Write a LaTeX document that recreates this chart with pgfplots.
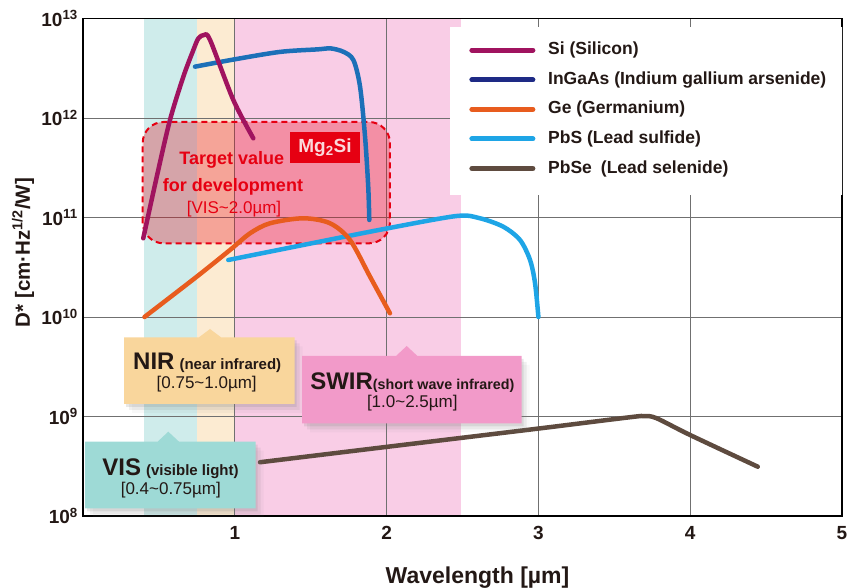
\documentclass[border=0pt]{standalone}
\usepackage{fontspec}
\setmainfont{Liberation Sans}
\usepackage{pgfplots}
\pgfplotsset{compat=1.18}
\usetikzlibrary{shadows}

\definecolor{sicol}{HTML}{A0135F}
\definecolor{ingaas}{HTML}{1C70B8}
\definecolor{ingaasleg}{HTML}{1E2A85}
\definecolor{gecol}{HTML}{E85C1E}
\definecolor{pbscol}{HTML}{1EA5E6}
\definecolor{pbsecol}{HTML}{5E4B3F}
\definecolor{visband}{HTML}{CFECEB}
\definecolor{nirband}{HTML}{FCEBD2}
\definecolor{swirband}{HTML}{F9CDE6}
\definecolor{visbox}{HTML}{9EDAD6}
\definecolor{nirbox}{HTML}{F9D69C}
\definecolor{swirbox}{HTML}{F29AC9}
\definecolor{tred}{HTML}{E60012}
\definecolor{gridgray}{HTML}{707070}
\definecolor{ink}{HTML}{231815}

\newcommand{\fs}[1]{\fontsize{#1}{#1}\selectfont}

\begin{document}
\begin{tikzpicture}
\begin{axis}[
    name=ax, set layers, scale only axis,
    width=759pt, height=497.5pt,
    xmin=0, xmax=5, ymin=1e8, ymax=1e13, ymode=log,
    xtick={1,2,3,4,5}, xticklabels={1,2,3,4,5},
    ytick={1e8,1e9,1e10,1e11,1e12,1e13},
    yticklabels={10\textsuperscript{8},10\textsuperscript{9},10\textsuperscript{10},10\textsuperscript{11},10\textsuperscript{12},10\textsuperscript{13}},
    grid=major, major grid style={line width=0.8pt, color=gridgray},
    major tick length=0pt, minor tick length=0pt,
    axis line style={line width=1.3pt, black},
    tick label style={font=\fs{19}\bfseries, inner sep=0pt, text=ink},
    xticklabel style={anchor=north, yshift=-10.5pt},
    yticklabel style={anchor=east, xshift=-5pt},
    legend image code/.code={\draw[#1, line width=5pt, line cap=round] (0pt,0pt) -- (61pt,0pt);},
    legend style={at={(axis description cs:0.5088,0.9538)}, anchor=north west,
        draw=none, fill=none, inner sep=0pt, row sep=12.6pt, column sep=12.8pt,
        font=\fs{17.5}\bfseries, text=ink,
        nodes={inner sep=0pt, text height=13pt, text depth=4pt}},
    legend cell align=left,
]
% wavelength bands behind the grid
\begin{pgfonlayer}{axis background}
\fill[visband] (axis cs:0.4,1e8) rectangle (axis cs:0.75,1e13);
\fill[nirband] (axis cs:0.75,1e8) rectangle (axis cs:1.0,1e13);
\fill[swirband] (axis cs:1.0,1e8) rectangle (axis cs:2.49,1e13);
\end{pgfonlayer}

% target region
\draw[tred, line width=2pt, dash pattern=on 6pt off 4pt, fill=tred, fill opacity=0.3, rounded corners=21pt]
    (axis cs:0.393,5.5e10) rectangle (axis cs:2.022,9.12e11);

\addplot[pbsecol, line width=4.5pt, smooth, line cap=round, line join=round, no markers, forget plot] coordinates {
    (1.166,3.47e8) (2.0,4.95e8) (3.011,7.6e8) (3.6,9.82e8) (3.70,1.01e9) (3.779,9.6e8) (3.999,6.52e8) (4.445,3.13e8)
};
\addplot[pbscol, line width=4.5pt, smooth, line cap=round, line join=round, no markers, forget plot] coordinates {
    (0.957,3.74e10) (1.5,5.48e10) (2.0,7.75e10) (2.461,1.035e11) (2.615,9.82e10)
    (2.769,8.07e10) (2.879,5.94e10) (2.945,3.74e10) (2.978,2.18e10) (3.0,1.0e10)
};
\addplot[gecol, line width=4.5pt, smooth, line cap=round, line join=round, no markers, forget plot] coordinates {
    (0.405,1.0e10) (0.749,2.54e10) (0.968,4.71e10) (1.10,6.93e10) (1.232,8.75e10) (1.451,9.82e10)
    (1.627,8.75e10) (1.759,5.94e10) (1.891,2.54e10) (2.022,1.09e10)
};
\addplot[ingaas, line width=4.5pt, smooth, line cap=round, line join=round, no markers, forget plot] coordinates {
    (0.738,3.28e12) (1.0,3.89e12) (1.3,4.62e12) (1.55,4.9e12) (1.63,5.01e12) (1.715,4.63e12) (1.781,3.83e12)
    (1.825,2.07e12) (1.858,6.49e11) (1.879,2.04e11) (1.886,9.44e10)
};
\addplot[sicol, line width=4.5pt, smooth, line cap=round, line join=round, no markers, forget plot] coordinates {
    (0.397,6.18e10) (0.486,2.57e11) (0.573,9.55e11) (0.661,2.6e12) (0.727,4.82e12) (0.760,6.31e12)
    (0.797,6.82e12) (0.837,6.08e12) (0.990,1.52e12) (1.122,6.25e11)
};

% white legend panel
\fill[white] (axis cs:2.418,1.68e11) rectangle (axis cs:5.1,8.28e12);

\addlegendimage{sicol}
\addlegendentry{Si (Silicon)}
\addlegendimage{ingaasleg}
\addlegendentry{InGaAs (Indium gallium arsenide)}
\addlegendimage{gecol}
\addlegendentry{Ge (Germanium)}
\addlegendimage{pbscol}
\addlegendentry{PbS (Lead sulfide)}
\addlegendimage{pbsecol}
\addlegendentry{PbSe\hspace{9pt}(Lead selenide)}
\end{axis}

% annotations in image pixel coordinates
\begin{scope}[shift={(ax.north west)}, xshift=-83pt, yshift=18.5pt, x=1pt, y=-1pt]
  % axis titles
  \node[rotate=90, font=\fs{20.5}\bfseries, text=ink] at (23,252.5) {D* [cm·Hz\textsuperscript{1/2}/W]};
  \node[anchor=base, font=\fs{23}\bfseries, text=ink] at (477.5,583.3) {Wavelength [µm]};

  % target text
  \node[anchor=base, font=\fs{18}\bfseries, text=tred] at (231.7,165) {Target value};
  \node[anchor=base, font=\fs{18}\bfseries, text=tred] at (233,191.7) {for development};
  \node[anchor=base, font=\fs{17}, text=tred] at (234,214) {[VIS\textasciitilde 2.0µm]};
  \fill[tred] (290,131.7) rectangle (360,163.3);
  \node[font=\fs{19}\bfseries, text=white!85!tred] at (325,147.5) {Mg\textsubscript{2}Si};

  % band boxes
  \tikzset{bshadow/.style={drop shadow={shadow xshift=2pt, shadow yshift=-3pt, opacity=0.18},
                           drop shadow={shadow xshift=5pt, shadow yshift=-6pt, opacity=0.12},
                           drop shadow={shadow xshift=8pt, shadow yshift=-9pt, opacity=0.06}}}
  \fill[nirbox, bshadow] (124,404) -- (124,337.3) -- (199,337.3) -- (210,329) -- (221,337.3) -- (294.7,337.3) -- (294.7,404) -- cycle;
  \node[anchor=base, text=ink] at (207.2,369.3) {\fs{24}\bfseries NIR\hspace{5pt}\fs{15}(near infrared)};
  \node[anchor=base, font=\fs{17}, text=ink] at (206.7,389) {[0.75\textasciitilde 1.0µm]};

  \fill[swirbox, bshadow] (302,423.3) -- (302,356) -- (396,356) -- (406.7,346) -- (417.4,356) -- (521.7,356) -- (521.7,423.3) -- cycle;
  \node[anchor=base, text=ink] at (412.3,390) {\fs{24}\bfseries SWIR\fs{14.3}(short wave infrared)};
  \node[anchor=base, font=\fs{17}, text=ink] at (412.3,408) {[1.0\textasciitilde 2.5µm]};

  \fill[visbox, bshadow] (85,508.3) -- (85,441.7) -- (157.6,441.7) -- (168.3,431.7) -- (179,441.7) -- (255.7,441.7) -- (255.7,508.3) -- cycle;
  \node[anchor=base, text=ink] at (170.5,475.7) {\fs{24}\bfseries VIS\hspace{5pt}\fs{15}(visible light)};
  \node[anchor=base, font=\fs{17}, text=ink] at (170.8,495) {[0.4\textasciitilde 0.75µm]};

  \pgfresetboundingbox
  \useasboundingbox (0,0) rectangle (848,588);
\end{scope}
\end{tikzpicture}
\end{document}
